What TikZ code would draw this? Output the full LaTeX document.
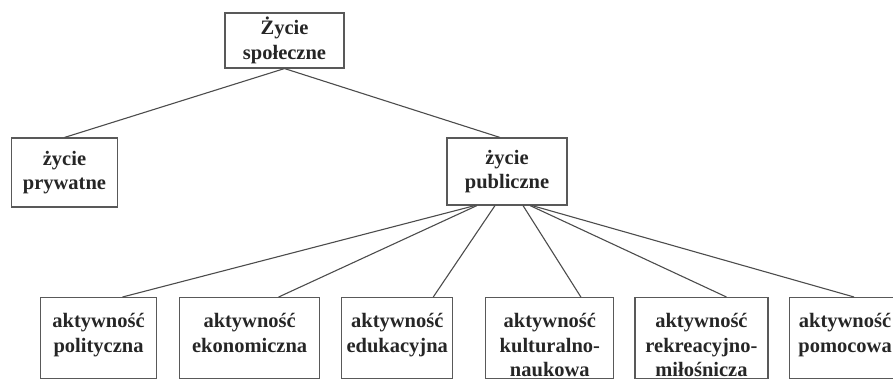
\documentclass[tikz,border=0pt]{standalone}
\usepackage{fontspec}
\setmainfont{Liberation Serif}
\usetikzlibrary{positioning}

\begin{document}
\begin{tikzpicture}[x=1pt, y=-1pt, node distance=22pt]
			\tikzset{block/.style= {draw=black!65, line width=1.1pt, rectangle, align=center, text=black!85,
        font=\fontsize{20.5}{24.5}\selectfont\bfseries, text width=100pt, inner xsep=3pt},
        sub/.style={block, anchor=north west, text height=26pt, text depth=47pt, inner ysep=4pt},
        link/.style={draw=black!70, line width=1.1pt}
        }

			\useasboundingbox (0,0) rectangle (893,380);
			\clip (0,0) rectangle (893,380);

			% upper levels
			\node [block, minimum width=119pt, minimum height=55pt] (social) at (284.5,40.5) {Życie\\społeczne};
			\node [block, minimum width=105pt, minimum height=69pt] (private) at (64.5,172.5) {życie\\prywatne};
			\node [block, minimum width=120pt, minimum height=67pt] (public) at (507,171.5) {życie\\publiczne};

			% kinds of activity
			\node [sub, minimum width=116pt, text width=108pt] (politic) at (40,297) {aktywność\\polityczna};
			\node [sub, minimum width=140pt, text width=132pt, right=of politic] (econ) {aktywność\\ekonomiczna};
			\node [sub, minimum width=111pt, text width=104pt, right=21pt of econ] (educ) {aktywność\\edukacyjna};
			\node [sub, minimum width=128pt, text width=120pt, right=32pt of educ] (culture) {aktywność\\kulturalno-\\naukowa};
			\node [sub, minimum width=133pt, text width=125pt, right=20pt of culture] (leisure) {aktywność\\rekreacyjno-\\miłośnicza};
			\node [sub, minimum width=112pt, text width=104pt, right=20pt of leisure] (helping) {aktywność\\pomocowa};

			\path[link] (social.south) edge (private.north);
			\path[link] (social.south) edge ([xshift=-7pt]public.north);
			\path[link] ([xshift=-32pt]public.south) edge ([xshift=24pt]politic.north);
			\path[link] ([xshift=-30pt]public.south) edge ([xshift=29pt]econ.north);
			\path[link] ([xshift=-12pt]public.south) edge ([xshift=36pt]educ.north);
			\path[link] ([xshift=16pt]public.south) edge ([xshift=31pt]culture.north);
			\path[link] ([xshift=23pt]public.south) edge ([xshift=25pt]leisure.north);
			\path[link] ([xshift=25pt]public.south) edge ([xshift=9pt]helping.north);

		\end{tikzpicture}
\end{document}
